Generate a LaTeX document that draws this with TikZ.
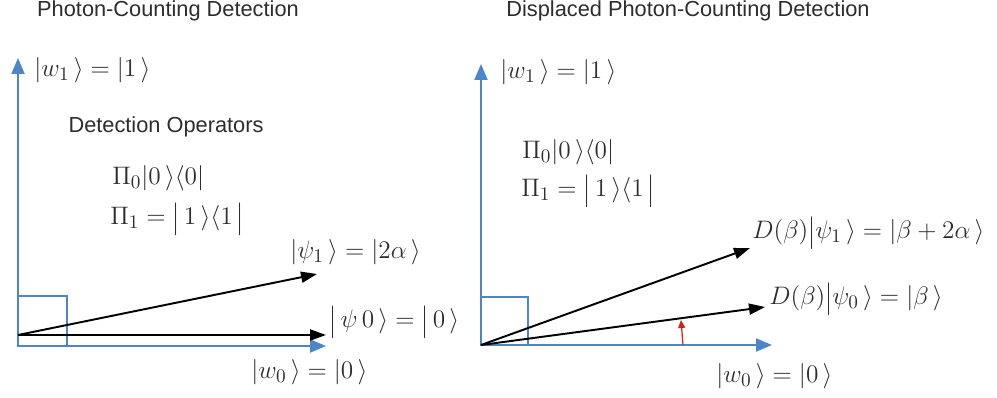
\documentclass[tikz,border=0pt]{standalone}
\usepackage{amsmath}
\usepackage{fontspec}
\setmainfont{Liberation Serif}
\setsansfont{Liberation Sans}
\usepackage{tikz}
\usetikzlibrary{arrows.meta, positioning}
\definecolor{axisblue}{RGB}{74,134,200}
\definecolor{titlegray}{RGB}{45,45,45}
\definecolor{shiftred}{RGB}{200,40,20}
\newcommand{\kbar}{\mathord{\raisebox{-0.1em}{\scalebox{1}[1.3]{$\vert$}}}}
\tikzset{
    axisline/.style={
        draw=axisblue,
        line width=1.2pt,
        -{Triangle[length=3.2mm, width=2.6mm]}
    },
    stateline/.style={
        draw=black,
        line width=1.1pt,
        -{Triangle[length=3.2mm, width=2.2mm]}
    },
    rightmark/.style={
        draw=axisblue,
        line width=0.6pt
    },
    shiftline/.style={
        draw=shiftred,
        line width=0.7pt,
        -{Triangle[length=1.6mm, width=1.4mm]}
    },
    paneltitle/.style={
        font=\sffamily\fontsize{12.4}{14}\selectfont,
        text=titlegray,
        inner sep=0pt
    },
    ketlabel/.style={
        font=\fontsize{15}{17}\selectfont,
        text=titlegray,
        inner sep=0pt,
        anchor=west
    }
}

\begin{document}
\begin{tikzpicture}[x=0.02cm, y=-0.02cm]
    \useasboundingbox (0,0) rectangle (997,398);

    % left panel: photon counting
    \coordinate (oL) at (18,346);
    \coordinate (ytipL) at (18,58);
    \coordinate (xtipL) at (326,346);
    \coordinate (vL) at (18,335);
    \coordinate (v0L) at (326,335);
    \coordinate (v1L) at (317,274);
    \coordinate (sqL) at (67,296);

    \node[paneltitle] (titleL) at (168,11) {Photon-Counting Detection};
    \node[ketlabel] (w1L) at (34,70) {$\lvert w_1\,\rangle = \lvert 1\,\rangle$};
    \node[paneltitle] (detop) at (166,127) {Detection Operators};
    \node[ketlabel] (pi0L) at (112,178) {$\Pi_0 \lvert 0\,\rangle\langle 0\rvert$};
    \node[ketlabel] (pi1L) at (110,219) {$\Pi_1 = \kbar\, 1\,\rangle\langle 1\,\kbar$};
    \node[ketlabel] (psi1L) at (290,252) {$\lvert \psi_1\,\rangle = \lvert 2\alpha\,\rangle$};
    \node[ketlabel] (psi0L) at (329,322) {$\kbar\,\psi\,0\,\rangle = \kbar\,0\,\rangle$};
    \node[ketlabel] (w0L) at (251,372) {$\lvert w_0\,\rangle = \lvert 0\,\rangle$};

    \draw[rightmark] (oL) rectangle (sqL);
    \draw[axisline] (oL) -- (ytipL);
    \draw[axisline] (oL) -- (xtipL);
    \draw[stateline] (vL) -- (v0L);
    \draw[stateline] (vL) -- (v1L);

    % right panel: displaced photon counting
    \coordinate (oR) at (481,345);
    \coordinate (ytipR) at (481,64);
    \coordinate (xtipR) at (772,345);
    \coordinate (v1R) at (750,248);
    \coordinate (v0R) at (765,307);
    \coordinate (sqR) at (528,297);
    \coordinate (shiftA) at (683,345);
    \coordinate (shiftB) at (681,320);

    \node[paneltitle] (titleR) at (688,11) {Displaced Photon-Counting Detection};
    \node[ketlabel] (w1R) at (500,72) {$\lvert w_1\,\rangle = \lvert 1\,\rangle$};
    \node[ketlabel] (pi0R) at (522,152) {$\Pi_0 \lvert 0\,\rangle\langle 0\rvert$};
    \node[ketlabel] (pi1R) at (521,191) {$\Pi_1 = \kbar\, 1\,\rangle\langle 1\,\kbar$};
    \node[ketlabel] (dpsi1) at (752,233) {$D(\beta)\kbar\psi_1\,\rangle = \lvert\beta + 2\alpha\,\rangle$};
    \node[ketlabel] (dpsi0) at (769,299) {$D(\beta)\kbar\psi_0\,\rangle = \lvert\beta\,\rangle$};
    \node[ketlabel] (w0R) at (716,376) {$\lvert w_0\,\rangle = \lvert 0\,\rangle$};

    \draw[rightmark] (oR) rectangle (sqR);
    \draw[axisline] (oR) -- (ytipR);
    \draw[axisline] (oR) -- (xtipR);
    \draw[stateline] (oR) -- (v1R);
    \draw[stateline] (oR) -- (v0R);
    \draw[shiftline] (shiftA) -- (shiftB);
\end{tikzpicture}
\end{document}
